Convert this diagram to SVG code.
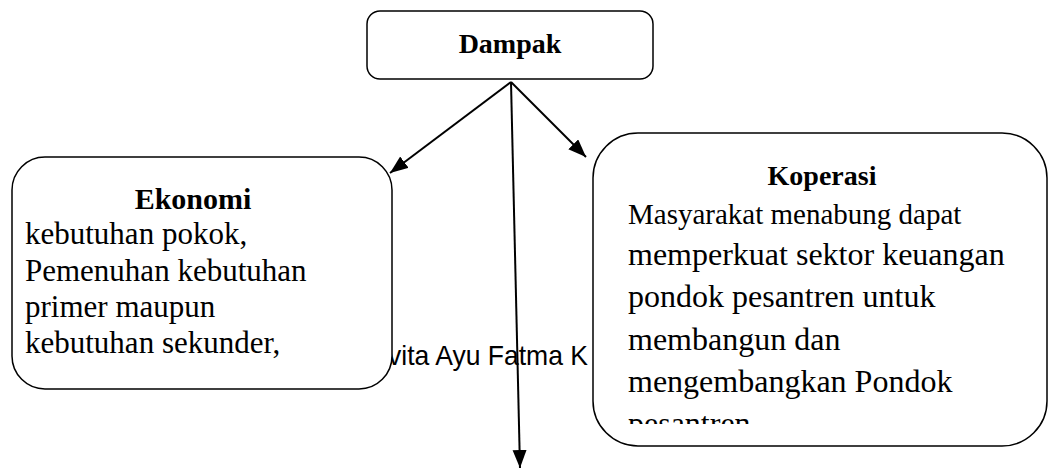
<svg xmlns="http://www.w3.org/2000/svg" width="1049" height="470" viewBox="0 0 1049 470">
  <style>
    .box { fill: #ffffff; stroke: #000000; stroke-width: 1.5; }
    .title { font-family: "Liberation Serif", "Times New Roman", serif; font-weight: bold; fill: #000; text-anchor: middle; }
    .body { font-family: "Liberation Serif", "Times New Roman", serif; fill: #000; }
    .wm { font-family: "Liberation Sans", Arial, sans-serif; fill: #000; }
    .conn { stroke: #000; stroke-width: 2; fill: none; marker-end: url(#arrow); }
  </style>
  <defs>
    <marker id="arrow" markerUnits="userSpaceOnUse" markerWidth="20" markerHeight="16" refX="18" refY="7" orient="auto">
      <path d="M0,0 L18,7 L0,14 Z" fill="#000"/>
    </marker>
    <clipPath id="kopClip">
      <rect x="600" y="140" width="440" height="284"/>
    </clipPath>
  </defs>
  <rect width="1049" height="470" fill="#ffffff"/>

  <text class="wm" x="388" y="365" font-size="28" textLength="200" lengthAdjust="spacingAndGlyphs">vita Ayu Fatma K</text>

  <g id="node-dampak">
    <rect class="box" x="367" y="11" width="286" height="68" rx="13"/>
    <text class="title" x="510" y="53" font-size="28">Dampak</text>
  </g>

  <g id="node-ekonomi">
    <rect class="box" x="12" y="157" width="380" height="232" rx="33"/>
    <text class="title" x="193" y="209" font-size="30">Ekonomi</text>
    <text class="body" font-size="31">
      <tspan x="25" y="244">kebutuhan pokok,</tspan>
      <tspan x="25" y="281">Pemenuhan kebutuhan</tspan>
      <tspan x="25" y="317">primer maupun</tspan>
      <tspan x="25" y="353">kebutuhan sekunder,</tspan>
    </text>
  </g>

  <g id="node-koperasi">
    <rect class="box" x="593" y="133" width="454" height="313" rx="45"/>
    <text class="title" x="822" y="185" font-size="28">Koperasi</text>
    <g clip-path="url(#kopClip)">
      <text class="body" x="628" y="224" font-size="29">Masyarakat menabung dapat</text>
      <text class="body" font-size="32">
        <tspan x="628" y="265">memperkuat sektor keuangan</tspan>
        <tspan x="628" y="307">pondok pesantren untuk</tspan>
        <tspan x="628" y="350">membangun dan</tspan>
        <tspan x="628" y="392">mengembangkan Pondok</tspan>
        <tspan x="628" y="434">pesantren</tspan>
      </text>
    </g>
  </g>

  <g id="connectors">
    <line class="conn" x1="511" y1="82" x2="390" y2="173"/>
    <line class="conn" x1="511" y1="82" x2="586" y2="157"/>
    <line class="conn" x1="511" y1="82" x2="520" y2="468"/>
  </g>
</svg>
